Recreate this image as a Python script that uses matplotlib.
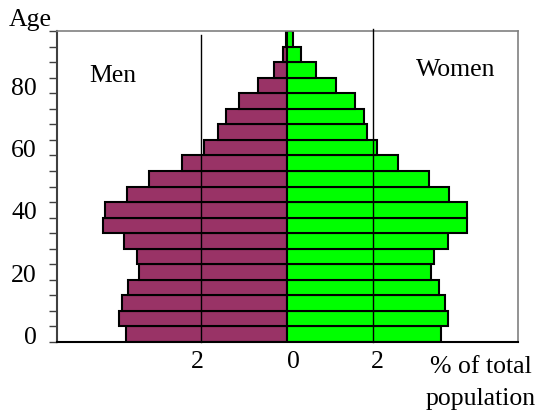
import numpy as np
import matplotlib.pyplot as plt
from matplotlib.ticker import FixedLocator
from matplotlib.transforms import ScaledTranslation

plt.rcParams['font.family'] = ['Liberation Serif', 'DejaVu Serif']

# age groups, lower bound of each 5-year band
ages = list(range(0, 100, 5))
# % of total population, from 0-4 up to 95-99
men = [3.74, 3.91, 3.84, 3.70, 3.44, 3.49, 3.79, 4.28, 4.23, 3.72,
       3.20, 2.44, 1.93, 1.60, 1.42, 1.12, 0.67, 0.30, 0.10, 0.02]
women = [3.58, 3.74, 3.67, 3.53, 3.35, 3.42, 3.74, 4.19, 4.19, 3.77,
         3.30, 2.58, 2.09, 1.86, 1.79, 1.58, 1.14, 0.67, 0.33, 0.14]
xtick_pos = [-2, 0, 2]
xtick_lab = ['2', '0', '2']
age_labels = ['0', '20', '40', '60', '80']

purple = '#993366'
green = '#00ff00'
fs = 18.5

fig = plt.figure(figsize=(5.39, 4.14), dpi=100)
ax = fig.add_axes([57/539, 71/414, 461/539, 311/414])

ages = np.array(ages)
ax.barh(ages, -np.array(men), height=5, align='edge', color=purple,
        edgecolor='black', linewidth=1.5, zorder=2)
ax.barh(ages, women, height=5, align='edge', color=green,
        edgecolor='black', linewidth=1.5, zorder=2)

ax.set_xlim(-5.35, 5.37)
ax.set_ylim(0, 100)

# the two 2% guide lines
ax.plot([-2, -2], [0, 98.7], color='black', lw=1, zorder=3, clip_on=False)
ax.plot([2, 2], [0, 100.6], color='black', lw=1, zorder=3, clip_on=False)

ax.set_xticks(xtick_pos)
ax.set_xticklabels(xtick_lab, fontsize=fs)
ax.tick_params(axis='x', length=0, pad=6)
# the labels sit a little off the guide lines in the original
for lab, dx in zip(ax.get_xticklabels(), [-4, 6, 4]):
    lab.set_transform(lab.get_transform() + ScaledTranslation(dx / 100, 0, fig.dpi_scale_trans))

# tick marks every 5 years, labels centred on the bands
ax.set_yticks(range(0, 101, 5))
ax.set_yticklabels([])
ax.tick_params(axis='y', which='major', length=6, width=1, direction='out', color='#404040')
ax.yaxis.set_minor_locator(FixedLocator([2.5 + 20 * i for i in range(5)]))
ax.set_yticklabels(age_labels, minor=True, fontsize=fs)
ax.tick_params(axis='y', which='minor', length=0, pad=14.5)

for s in ['top', 'right']:
    ax.spines[s].set_color('#808080')
    ax.spines[s].set_linewidth(1.2)
ax.spines['left'].set_color('#404040')
ax.spines['left'].set_linewidth(1.5)
ax.spines['bottom'].set_color('black')
ax.spines['bottom'].set_linewidth(1.5)

fig.text(30/539, 1 - 20/414, 'Age', fontsize=fs, ha='center', va='center')
ax.text(-4.6, 85.8, 'Men', fontsize=fs, ha='left', va='center')
ax.text(4.85, 87.9, 'Women', fontsize=fs, ha='right', va='center')
fig.text(481/539, 1 - 383/414, '% of total\npopulation', fontsize=fs,
         ha='center', va='center', linespacing=1.6)

fig.savefig('out.png', dpi=100)
